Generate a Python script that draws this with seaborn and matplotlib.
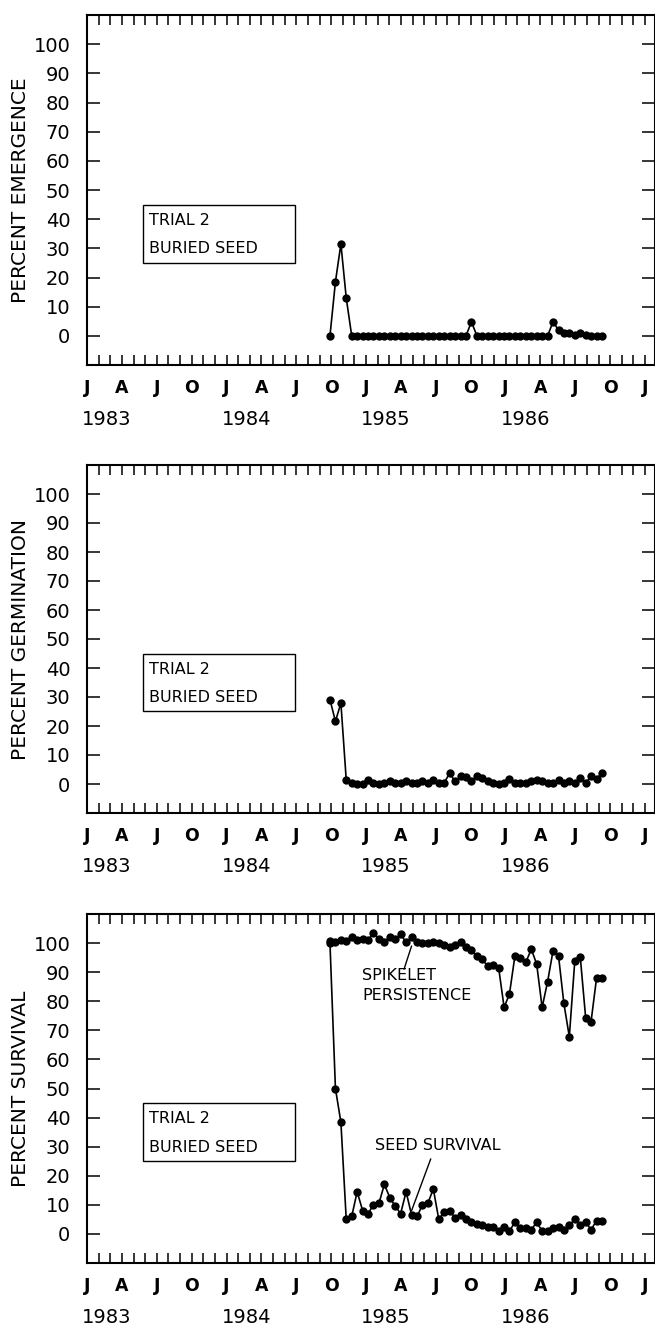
import matplotlib
matplotlib.use("Agg")
import matplotlib.pyplot as plt
from matplotlib.patches import Rectangle
import pandas as pd
import seaborn as sns

# ---------------- data ----------------
# sampling dates, in months since 1 Jan 1983 (about every two weeks)
sample_month = [20.90, 21.37, 21.84, 22.30, 22.77, 23.24, 23.71, 24.18, 24.64, 25.11,
                25.58, 26.05, 26.52, 26.98, 27.45, 27.92, 28.39, 28.86, 29.32, 29.79,
                30.26, 30.73, 31.20, 31.66, 32.13, 32.60, 33.07, 33.54, 34.00, 34.47,
                34.94, 35.41, 35.88, 36.34, 36.81, 37.28, 37.75, 38.22, 38.68, 39.15,
                39.62, 40.09, 40.56, 41.02, 41.49, 41.96, 42.43, 42.90, 43.36, 43.83,
                44.30]

emergence = [0, 18.5, 31.5, 13, 0, 0, 0, 0, 0, 0,
             0, 0, 0, 0, 0, 0, 0, 0, 0, 0,
             0, 0, 0, 0, 0, 0, 4.8, 0, 0, 0,
             0, 0, 0, 0, 0, 0, 0, 0, 0, 0,
             0, 4.8, 2, 1, 1, 0.3, 1, 0.3, 0, 0,
             0]

germination = [29.1, 21.6, 27.9, 1.4, 0.5, 0.1, 0.1, 1.3, 0.3, 0.1,
               0.5, 1.0, 0.3, 0.5, 1.0, 0.5, 0.5, 1.0, 0.5, 1.3,
               0.3, 0.5, 3.7, 0.9, 2.6, 2.5, 0.9, 2.8, 1.9, 1.2,
               0.3, 0.1, 0.3, 1.6, 0.5, 0.3, 0.5, 1.0, 1.3, 1.0,
               0.5, 0.3, 1.3, 0.5, 1.2, 0.5, 2.0, 0.3, 2.7, 1.6,
               3.9]

spikelet = [100.7, 100.5, 101.0, 100.8, 102.0, 101.0, 101.5, 101.0, 103.5, 101.5,
            100.5, 102.0, 101.5, 103.0, 100.3, 102.0, 100.5, 100.0, 100.0, 100.3,
            100.0, 99.5, 98.5, 99.5, 100.5, 98.5, 97.5, 95.5, 94.5, 92.0,
            92.5, 91.5, 77.9, 82.5, 95.6, 94.9, 93.4, 97.9, 92.8, 77.9,
            86.7, 97.4, 95.6, 79.3, 67.8, 93.9, 95.3, 74.1, 73.0, 87.9,
            87.9]

seed_survival = [100, 50, 38.4, 5, 6, 14.5, 8, 7, 10, 10.5,
                 17, 12.5, 9.5, 7, 14.5, 6.5, 6, 10, 10.5, 15.5,
                 5, 7.5, 8, 5.5, 6.5, 5, 4, 3.5, 3, 2.5,
                 2.5, 1, 2.5, 1, 4, 2, 2, 1.5, 4, 1,
                 1, 2, 2.5, 1.5, 3, 5, 3, 4, 1.5, 4.5,
                 4.5]

month_letters = ["J", "A", "J", "O"]
year_labels = ["1983", "1984", "1985", "1986"]
y_ticks = [0, 10, 20, 30, 40, 50, 60, 70, 80, 90, 100]
panel_ylabels = ["PERCENT EMERGENCE", "PERCENT GERMINATION", "PERCENT SURVIVAL"]
box_lines = ["TRIAL 2", "BURIED SEED"]

# ---------------- style ----------------
sns.set_style("ticks")
plt.rcParams["font.family"] = ["DejaVu Sans"]
plt.rcParams["text.color"] = "black"
plt.rcParams["axes.labelcolor"] = "black"
plt.rcParams["xtick.color"] = "black"
plt.rcParams["ytick.color"] = "black"
plt.rcParams["axes.edgecolor"] = "black"

W, H = 655, 1330
fig = plt.figure(figsize=(W / 100, H / 100), dpi=100)

left_px, right_px = 87, 655
panels_px = [(15, 365), (465, 813), (914, 1263)]  # (top, bottom)

axes = []
for top, bottom in panels_px:
    ax = fig.add_axes([left_px / W, (H - bottom) / H,
                       (right_px - left_px) / W, (bottom - top) / H])
    axes.append(ax)


def draw_series(ax, y):
    df = pd.DataFrame({"month": sample_month, "value": y})
    sns.lineplot(data=df, x="month", y="value", ax=ax, color="black",
                 marker="o", markersize=6, markeredgewidth=0, linewidth=1.2)


def style_axis(ax, ylabel):
    ax.set_xlim(0, 48.86)
    ax.set_ylim(-10, 110)
    ticks = list(range(49))
    ax.set_xticks(ticks)
    ax.set_xticklabels([month_letters[(t // 3) % 4] if t % 3 == 0 else "" for t in ticks],
                       fontsize=12.5, fontweight="bold")
    ax.tick_params(axis="x", direction="in", top=True, bottom=True,
                   length=7, width=1.1, pad=10, colors="black")
    ax.set_yticks(y_ticks)
    ax.set_yticklabels([str(v) for v in y_ticks], fontsize=14)
    ax.tick_params(axis="y", direction="in", left=True, right=True,
                   length=9.5, width=1.1, pad=12, colors="black")
    for s in ax.spines.values():
        s.set_linewidth(1.5)
        s.set_color("black")
    ax.set_xlabel("")
    ax.set_ylabel(ylabel, fontsize=14.5, color="black")
    ax.yaxis.set_label_coords(-0.100, 0.5)
    for k, yr in enumerate(year_labels):
        ax.text(1.7 + 12 * k, -0.155, yr, transform=ax.get_xaxis_transform(),
                ha="center", va="center", fontsize=14, color="black")
    # label box
    ax.add_patch(Rectangle((4.8, 25.1), 13.1, 19.9, fill=False,
                           edgecolor="black", linewidth=1.0))
    ax.text(5.3, 39.6, box_lines[0], fontsize=11.5, va="center", ha="left", color="black")
    ax.text(5.3, 29.8, box_lines[1], fontsize=11.5, va="center", ha="left", color="black")


draw_series(axes[0], emergence)
draw_series(axes[1], germination)
draw_series(axes[2], spikelet)
draw_series(axes[2], seed_survival)

for ax, lab in zip(axes, panel_ylabels):
    style_axis(ax, lab)

ax3 = axes[2]
ax3.text(23.66, 88.8, "SPIKELET", fontsize=11.5, va="center", ha="left", color="black")
ax3.text(23.66, 81.9, "PERSISTENCE", fontsize=11.5, va="center", ha="left", color="black")
ax3.annotate("", xy=(sample_month[15], spikelet[15] - 3), xytext=(27.27, 91.0),
             arrowprops=dict(arrowstyle="-", lw=1.0, color="black",
                             shrinkA=0, shrinkB=0))
ax3.text(24.77, 30.3, "SEED SURVIVAL", fontsize=11.5, va="center", ha="left", color="black")
ax3.annotate("", xy=(sample_month[15], seed_survival[15] + 1.5), xytext=(29.57, 25.8),
             arrowprops=dict(arrowstyle="-", lw=1.0, color="black",
                             shrinkA=0, shrinkB=0))

fig.savefig("out.png", dpi=100)
